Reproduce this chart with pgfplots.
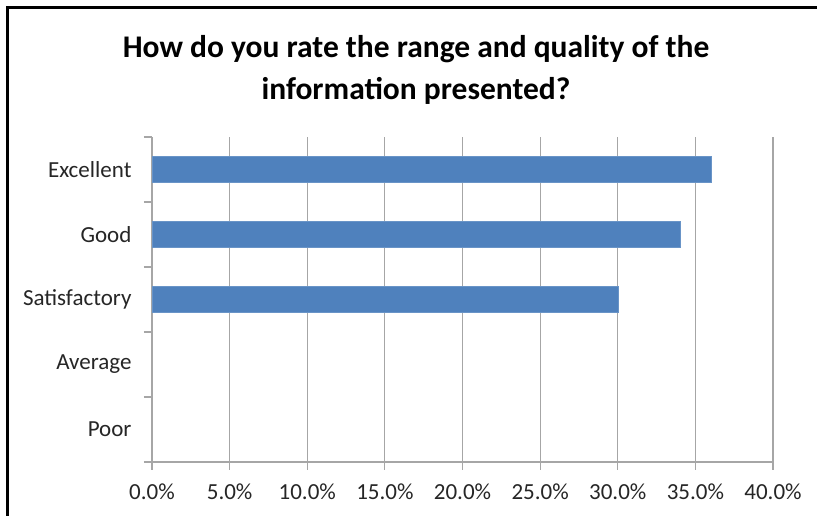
\documentclass[border=0pt]{standalone}
\usepackage{fontspec}
\setmainfont{Carlito}
\usepackage{pgfplots}
\pgfplotsset{compat=1.18}
\definecolor{barblue}{HTML}{4F81BD}
\definecolor{gridgray}{HTML}{A6A6A6}
\definecolor{txt}{HTML}{262626}
\begin{document}
\begin{tikzpicture}[x=1pt,y=1pt]
\path[use as bounding box] (0,0) rectangle (817,516);
\fill[white] (0,0) rectangle (817,516);
\draw[line width=3pt] (7.5,0) -- (7.5,508.5) -- (817,508.5);
\node[anchor=base, font=\fontsize{31.5}{36}\selectfont\bfseries, text=black] at (416,458) {How do you rate the range and quality of the};
\node[anchor=base, font=\fontsize{31.5}{36}\selectfont\bfseries, text=black] at (416,416) {information presented?};
\begin{axis}[
  at={(152pt,54pt)}, anchor=south west,
  scale only axis, width=621pt, height=325pt,
  xbar, bar width=26pt,
  xmin=0, xmax=40, ymin=0.5, ymax=5.5,
  axis lines*=left,
  axis line style={gridgray, line width=1.2pt},
  xtick={0,5,...,40},
  xticklabels={0.0\%,5.0\%,10.0\%,15.0\%,20.0\%,25.0\%,30.0\%,35.0\%,40.0\%},
  xmajorgrids, major grid style={gridgray, line width=1.2pt},
  tick style={gridgray, line width=1.2pt},
  major tick length=8pt,
  tick align=outside,
  ytick={0.5,1.5,...,5.5},
  yticklabels={},
  extra y ticks={1,2,3,4,5},
  extra y tick labels={Poor,Average,Satisfactory,Good,Excellent},
  extra y tick style={major tick length=0pt, grid=none},
  tick label style={font=\fontsize{23}{27}\selectfont, text=txt},
  xticklabel style={yshift=-10pt},
  yticklabel style={xshift=-17pt},
  clip=false,
]
\addplot[fill=barblue, draw=barblue!85!white] coordinates {(36,5) (34,4) (30,3)};
\end{axis}
\end{tikzpicture}
\end{document}
